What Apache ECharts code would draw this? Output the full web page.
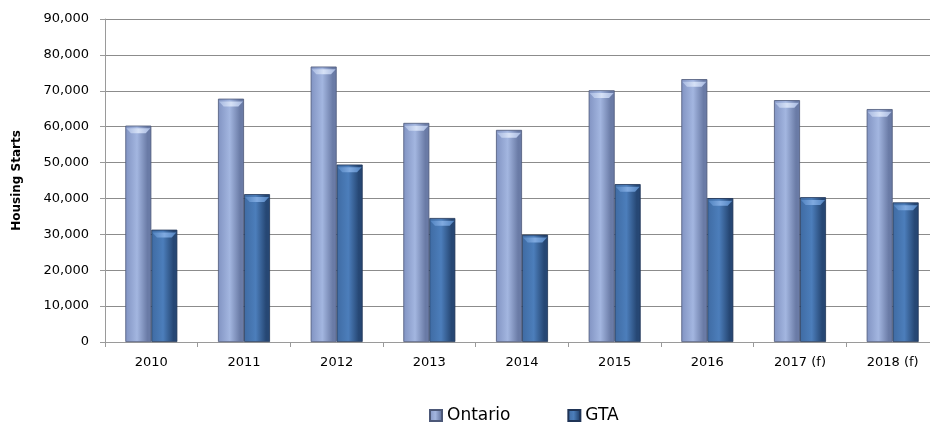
<!DOCTYPE html>
<html>
<head>
<meta charset="utf-8">
<script src="https://cdn.jsdelivr.net/npm/echarts@6/dist/echarts.min.js"></script>
<style>
  html, body { margin: 0; padding: 0; overflow: hidden; background: #ffffff; }
  #chart { width: 940px; height: 424px; }
</style>
</head>
<body>
<div id="chart"></div>
<script>
// Housing starts by year, Ontario vs. Greater Toronto Area
const years = ['2010', '2011', '2012', '2013', '2014', '2015', '2016', '2017 (f)', '2018 (f)'];
const ontario = [60300, 67800, 76750, 61050, 59100, 70150, 73250, 67400, 64900];
const gta = [31300, 41200, 49450, 34550, 29900, 44000, 40100, 40350, 38900];
const yTicks = { min: 0, max: 90000, interval: 10000 };

const font = 'DejaVu Sans';
const BAR_W = 26;

function barFill(left, mid, right) {
  return new echarts.graphic.LinearGradient(0, 0, 1, 0, [
    { offset: 0, color: left },
    { offset: 0.45, color: mid },
    { offset: 0.85, color: right },
    { offset: 1, color: right }
  ]);
}

// bevelled highlight on the top face of each column
function capFill(hi, edge) {
  return new echarts.graphic.LinearGradient(0, 0, 1, 0, [
    { offset: 0, color: edge },
    { offset: 0.5, color: hi },
    { offset: 1, color: edge }
  ]);
}
const capPath = 'path://M0,0 L26,0 L21,6 L5,6 Z';

function capSeries(name, data, hi, edge) {
  return {
    name: name,
    type: 'pictorialBar',
    data: data,
    barWidth: BAR_W,
    barGap: '0%',
    symbol: capPath,
    symbolSize: [BAR_W - 2, 5],
    symbolPosition: 'end',
    symbolOffset: [0, '55%'],
    silent: true,
    z: 3,
    itemStyle: { color: capFill(hi, edge) }
  };
}

const chart = echarts.init(document.getElementById('chart'), null, { renderer: 'canvas' });

chart.setOption({
  animation: false,
  backgroundColor: '#ffffff',
  textStyle: { fontFamily: font },
  grid: { left: 105, right: 1, top: 19, bottom: 82, containLabel: false },
  legend: {
    left: 424,
    top: 402,
    icon: 'rect',
    itemWidth: 12,
    itemHeight: 11,
    itemGap: 57,
    textStyle: { fontFamily: font, fontSize: 17, color: '#000000' },
    data: ['Ontario', 'GTA']
  },
  xAxis: {
    type: 'category',
    data: years,
    axisLine: { lineStyle: { color: '#9a9a9a', width: 1 } },
    axisTick: { show: true, alignWithLabel: false, length: 5, lineStyle: { color: '#9a9a9a' } },
    axisLabel: { color: '#000000', fontSize: 13, fontFamily: font, margin: 14 }
  },
  yAxis: {
    type: 'value',
    min: yTicks.min,
    max: yTicks.max,
    interval: yTicks.interval,
    name: 'Housing Starts',
    nameLocation: 'middle',
    nameGap: 82,
    nameRotate: 90,
    nameTextStyle: { fontFamily: font, fontSize: 12, fontWeight: 'bold', color: '#000000' },
    axisLine: { show: true, lineStyle: { color: '#9a9a9a', width: 1 } },
    axisTick: { show: true, length: 5, lineStyle: { color: '#9a9a9a' } },
    axisLabel: {
      color: '#000000', fontSize: 13, fontFamily: font, margin: 16,
      formatter: v => v.toLocaleString('en-US')
    },
    splitLine: { show: true, lineStyle: { color: '#8c8c8c', width: 1 } }
  },
  series: [
    {
      name: 'Ontario',
      type: 'bar',
      data: ontario,
      barWidth: BAR_W,
      barGap: '0%',
      itemStyle: {
        color: barFill('#8193c2', '#a3b6e0', '#6a7ba6'),
        borderColor: '#4c5878',
        borderWidth: 0.8
      }
    },
    {
      name: 'GTA',
      type: 'bar',
      data: gta,
      barWidth: BAR_W,
      barGap: '0%',
      itemStyle: {
        color: barFill('#3f6ba3', '#4c7ebb', '#264774'),
        borderColor: '#1f3456',
        borderWidth: 0.8
      }
    },
    capSeries('Ontario top', ontario, '#d6e1f6', '#a6b8e0'),
    capSeries('GTA top', gta, '#80aae0', '#5082bf')
  ]
});
</script>
</body>
</html>
